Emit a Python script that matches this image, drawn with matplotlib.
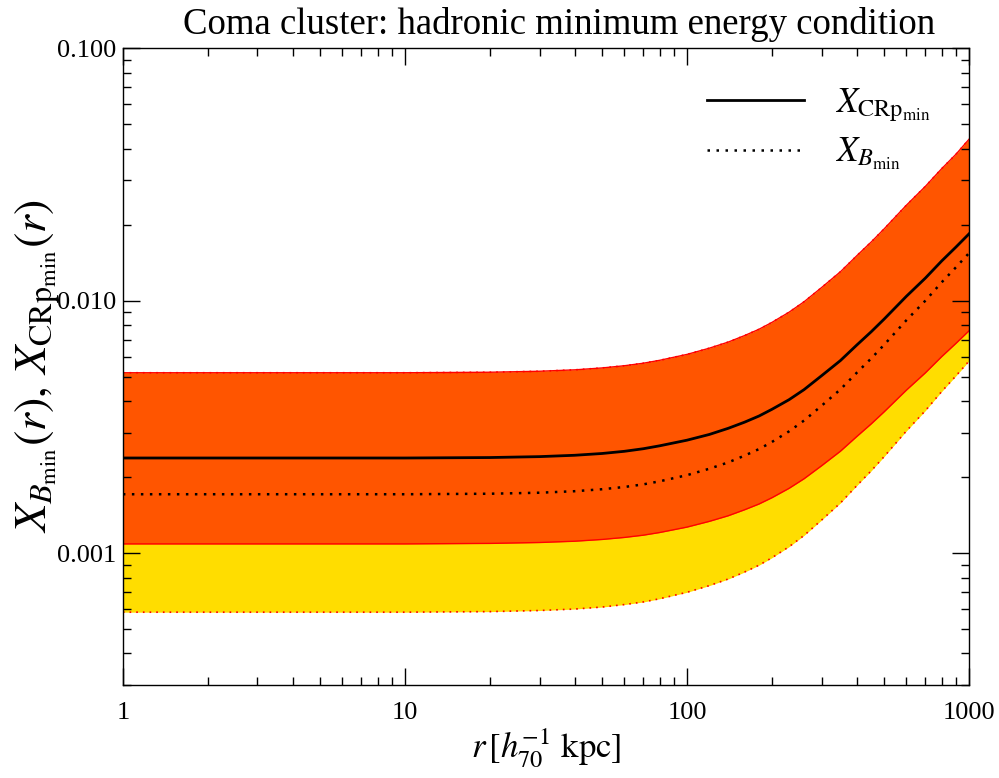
import numpy as np
import matplotlib
matplotlib.use("Agg")
import matplotlib.pyplot as plt
from matplotlib.ticker import LogLocator, FixedFormatter, FixedLocator, NullFormatter

plt.rcParams['font.family'] = ['Liberation Serif', 'DejaVu Serif']
plt.rcParams['mathtext.fontset'] = 'stix'

# radius in h70^-1 kpc
r = [1, 10, 20, 30, 40, 50, 60, 70, 80, 100, 120, 140, 160, 180, 200,
     230, 260, 300, 350, 400, 450, 500, 600, 700, 800, 900, 1000]
# upper edge of both bands
upper = [0.00518, 0.00518, 0.005204, 0.005251, 0.005319, 0.005412, 0.005522, 0.00565,
         0.005802, 0.006123, 0.00648, 0.006851, 0.00727, 0.007701, 0.008196, 0.008995,
         0.009893, 0.011264, 0.013012, 0.015061, 0.01707, 0.019239, 0.023891, 0.028347,
         0.033323, 0.038066, 0.0436]
# X_CRp_min (solid)
x_crp = [0.00238, 0.00238, 0.00239, 0.00241, 0.00244, 0.00248, 0.00253, 0.00259,
         0.00266, 0.00280, 0.00295, 0.00312, 0.00330, 0.00349, 0.00371, 0.00405,
         0.00444, 0.00504, 0.00579, 0.00667, 0.00753, 0.00845, 0.01041, 0.01228,
         0.01436, 0.01633, 0.01839]
# X_B_min (dotted)
x_b = [0.00171, 0.00171, 0.001718, 0.001734, 0.001758, 0.00179, 0.001827, 0.001871,
       0.001924, 0.002035, 0.002158, 0.002286, 0.002432, 0.002582, 0.002754, 0.003034,
       0.003349, 0.003832, 0.004451, 0.005182, 0.005902, 0.006683, 0.008368, 0.009995,
       0.01182, 0.01358, 0.01543]
# lower edge of the CRp band (orange)
lower_crp = [0.001087, 0.001087, 0.001092, 0.001101, 0.001114, 0.001132, 0.001153, 0.001177,
             0.001206, 0.001267, 0.001335, 0.001405, 0.001484, 0.001564, 0.001656, 0.001804,
             0.001969, 0.002217, 0.002532, 0.002895, 0.003249, 0.003626, 0.004423, 0.005174,
             0.006001, 0.006783, 0.007597]
# lower edge of the B band (yellow)
lower_b = [0.000583, 0.000583, 0.000586, 0.000592, 0.000600, 0.000611, 0.000625, 0.000640,
           0.000659, 0.000699, 0.000743, 0.000789, 0.000841, 0.000895, 0.000958, 0.001059,
           0.001174, 0.001351, 0.001579, 0.001850, 0.002118, 0.002411, 0.003048, 0.003666,
           0.004366, 0.005045, 0.005766]

fig = plt.figure(figsize=(9.99, 7.78), dpi=100)
ax = fig.add_axes([0.123, 0.1195, 0.847, 0.8185])

ax.fill_between(r, lower_b, upper, color="#FFDD00", lw=0)
ax.fill_between(r, lower_crp, upper, color="#FF5500", lw=0)
ax.plot(r, upper, color="red", lw=1)
ax.plot(r, lower_crp, color="red", lw=1)
ax.plot(r, upper, color="red", lw=1.2, linestyle=(0, (1, 3)))
ax.plot(r, lower_b, color="red", lw=1.2, linestyle=(0, (1, 3)))

ax.plot(r, x_crp, color="black", lw=2, label=r"$X_{\mathrm{CRp}_{\mathrm{min}}}$")
ax.plot(r, x_b, color="black", lw=1.8, linestyle=(0, (1, 2.6)), label=r"$X_{B_{\mathrm{min}}}$")

ax.set_xscale("log")
ax.set_yscale("log")
ax.set_xlim(1, 1000)
ax.set_ylim(3e-4, 0.1)

ax.xaxis.set_major_locator(FixedLocator([1, 10, 100, 1000]))
ax.xaxis.set_major_formatter(FixedFormatter(["1", "10", "100", "1000"]))
ax.yaxis.set_major_locator(FixedLocator([0.001, 0.01, 0.1]))
ax.yaxis.set_major_formatter(FixedFormatter(["0.001", "0.010", "0.100"]))
ax.xaxis.set_minor_locator(LogLocator(base=10, subs=np.arange(2, 10)))
ax.yaxis.set_minor_locator(LogLocator(base=10, subs=np.arange(2, 10)))
ax.xaxis.set_minor_formatter(NullFormatter())
ax.yaxis.set_minor_formatter(NullFormatter())

ax.tick_params(which="both", direction="in", top=True, right=True, width=1, labelsize=19)
ax.tick_params(which="major", length=12)
ax.tick_params(which="minor", length=6)
ax.tick_params(axis="x", which="major", pad=12)
ax.tick_params(axis="y", which="major", pad=5)
for s in ax.spines.values():
    s.set_linewidth(1)

ax.set_title("Coma cluster: hadronic minimum energy condition", fontsize=26.5, pad=10, x=0.515)
ax.set_xlabel(r"$r\,[h_{70}^{-1}\ \mathrm{kpc}]$", fontsize=25, labelpad=2)
ax.set_ylabel(r"$X_{B_{\mathrm{min}}}(r),\,X_{\mathrm{CRp}_{\mathrm{min}}}(r)$", fontsize=33, labelpad=-3)

ax.legend(loc="upper right", frameon=False, fontsize=25, handlelength=2.8,
          handletextpad=0.9, borderaxespad=0.7, labelspacing=0.35)

fig.savefig("out.png", dpi=100)
